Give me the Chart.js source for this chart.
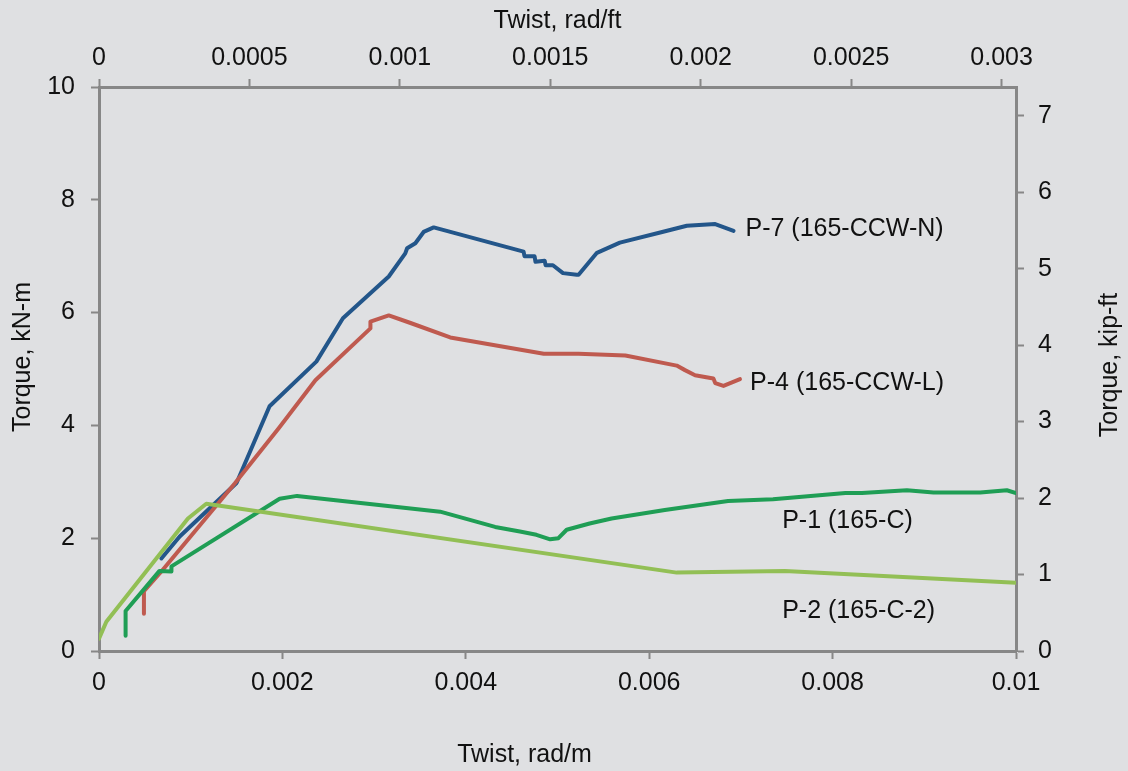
<!DOCTYPE html>
<html>
<head>
<meta charset="utf-8">
<script src="https://cdn.jsdelivr.net/npm/chart.js@4/dist/chart.umd.min.js"></script>
<style>
  html, body { margin: 0; padding: 0; background: #dfe0e2; }
  canvas { display: block; }
</style>
</head>
<body>
<canvas id="torque-chart" width="1128" height="771"></canvas>
<script>
/*
 * Torque vs twist, four specimens
**/

// Twist in rad/m, torque in kN-m
const p7Twist  = [0.00068, 0.00088, 0.00150, 0.00186, 0.00237, 0.00266, 0.00316, 0.00334, 0.00336, 0.00345, 0.00354, 0.00365, 0.00463, 0.00464, 0.00475, 0.00476, 0.00486, 0.00487, 0.00495, 0.00506, 0.00521, 0.00523, 0.00543, 0.00568, 0.00612, 0.00641, 0.00672, 0.00692]
const p7Torque = [1.64, 2.03, 2.98, 4.34, 5.13, 5.90, 6.64, 7.05, 7.14, 7.23, 7.43, 7.51, 7.08, 7.00, 7.00, 6.90, 6.92, 6.84, 6.84, 6.70, 6.67, 6.67, 7.06, 7.24, 7.42, 7.54, 7.57, 7.45]

const p4Twist  = [0.00049, 0.00049, 0.00068, 0.00148, 0.00196, 0.00236, 0.00296, 0.00296, 0.00316, 0.00339, 0.00383, 0.00485, 0.00523, 0.00574, 0.00630, 0.00639, 0.00650, 0.00670, 0.00672, 0.00681, 0.00699]
const p4Torque = [0.66, 1.06, 1.41, 2.97, 3.95, 4.80, 5.72, 5.84, 5.95, 5.82, 5.56, 5.27, 5.27, 5.24, 5.06, 4.98, 4.89, 4.83, 4.75, 4.70, 4.82]

const p1Twist  = [0.00029, 0.00029, 0.00066, 0.00079, 0.00079, 0.00197, 0.00216, 0.00372, 0.00432, 0.00459, 0.00477, 0.00492, 0.00501, 0.00510, 0.00535, 0.00559, 0.00617, 0.00686, 0.00735, 0.00814, 0.00832, 0.00881, 0.00910, 0.00961, 0.00990, 0.01000]
const p1Torque = [0.27, 0.71, 1.42, 1.41, 1.50, 2.70, 2.75, 2.47, 2.20, 2.12, 2.06, 1.98, 2.00, 2.15, 2.26, 2.35, 2.50, 2.66, 2.69, 2.80, 2.80, 2.85, 2.81, 2.81, 2.85, 2.80]

const p2Twist  = [0.00000, 0.00008, 0.00097, 0.00117, 0.00630, 0.00748, 0.01000]
const p2Torque = [0.22, 0.52, 2.35, 2.61, 1.39, 1.42, 1.21]

// Tick labels
const bottomTicks = [0, 0.002, 0.004, 0.006, 0.008, 0.01]
const topTicks    = ['0', '0.0005', '0.001', '0.0015', '0.002', '0.0025', '0.003']
const leftTicks   = [0, 2, 4, 6, 8, 10]
const rightTicks  = [0, 1, 2, 3, 4, 5, 6, 7]

// Series names, written at a point on the plot (data units)
const seriesLabels = [
  { text: 'P-7 (165-CCW-N)', x: 0.00705, y: 7.48 },
  { text: 'P-4 (165-CCW-L)', x: 0.00710, y: 4.75 },
  { text: 'P-1 (165-C)',     x: 0.00745, y: 2.30 },
  { text: 'P-2 (165-C-2)',   x: 0.00745, y: 0.71 }
]

const M_PER_FT = 0.3048
const KIPFT_PER_KNM = 0.737562

const axisColor = '#878787'
const textColor = '#111111'
const fontFamily = '"Liberation Sans", Arial, sans-serif'
const fontSize = 25

const toPoints = (xs, ys) => xs.map((x, i) => ({ x: x, y: ys[i] }))

const lineSet = (label, xs, ys, color) => ({
  label: label,
  data: toPoints(xs, ys),
  borderColor: color,
  backgroundColor: color,
  borderWidth: 4,
  pointRadius: 0,
  tension: 0,
  fill: false,
  borderJoinStyle: 'round',
  borderCapStyle: 'round'
})

const datasets = [
  lineSet('P-2', p2Twist, p2Torque, '#92bf55'),
  lineSet('P-1', p1Twist, p1Torque, '#1f9e55'),
  lineSet('P-4', p4Twist, p4Torque, '#bf5a4f'),
  lineSet('P-7', p7Twist, p7Torque, '#23568a')
]

const tickFont = { family: fontFamily, size: fontSize }

const axisGrid = {
  display: true,
  drawOnChartArea: false,
  drawTicks: true,
  tickLength: 8,
  tickWidth: 2,
  tickColor: axisColor,
  color: axisColor
}
const axisBorder = { display: true, color: axisColor, width: 3 }

// Series names plus the bottom / side axis titles (Excel places these a bit off-centre,
// and the right one reads bottom-to-top, so they are drawn here)
const textPlugin = {
  id: 'chartTexts',
  afterDraw(chart) {
    const ctx = chart.ctx
    const xs = chart.scales.x
    const ys = chart.scales.y
    const area = chart.chartArea
    ctx.save()
    ctx.font = `${fontSize}px ${fontFamily}`
    ctx.fillStyle = textColor
    ctx.textAlign = 'left'
    ctx.textBaseline = 'middle'
    seriesLabels.forEach(l => {
      ctx.fillText(l.text, xs.getPixelForValue(l.x), ys.getPixelForValue(l.y))
    })

    ctx.textAlign = 'center'
    ctx.fillText('Twist, rad/m', (area.left + area.right) / 2 - 33, chart.height - 16)

    const vertical = (text, x, y) => {
      ctx.save()
      ctx.translate(x, y)
      ctx.rotate(-Math.PI / 2)
      ctx.fillText(text, 0, 0)
      ctx.restore()
    }
    vertical('Torque, kN-m', 23, (area.top + area.bottom) / 2 - 12)
    vertical('Torque, kip-ft', chart.width - 18, (area.top + area.bottom) / 2 - 4)
    ctx.restore()
  }
}

const config = {
  type: 'line',
  data: { datasets: datasets },
  plugins: [textPlugin],
  options: {
    responsive: false,
    animation: false,
    events: [],
    layout: { padding: 0 },
    plugins: {
      legend: { display: false },
      tooltip: { enabled: false }
    },
    scales: {
      x: {
        type: 'linear',
        position: 'bottom',
        min: 0,
        max: 0.01,
        afterBuildTicks: scale => { scale.ticks = bottomTicks.map(v => ({ value: v })) },
        afterFit: scale => { scale.height = 120 },
        grid: axisGrid,
        border: axisBorder,
        ticks: {
          color: textColor,
          font: tickFont,
          padding: 9,
          maxRotation: 0,
          callback: (value) => String(value)
        }
      },
      x2: {
        type: 'linear',
        position: 'top',
        min: 0,
        max: 0.01 * M_PER_FT,
        afterBuildTicks: scale => { scale.ticks = topTicks.map(v => ({ value: parseFloat(v) })) },
        afterFit: scale => { scale.height = 87 },
        grid: axisGrid,
        border: axisBorder,
        ticks: {
          color: textColor,
          font: tickFont,
          padding: 6,
          maxRotation: 0,
          callback: (value, index) => topTicks[index]
        },
        title: {
          display: true,
          text: 'Twist, rad/ft',
          color: textColor,
          font: tickFont,
          padding: { top: 6, bottom: 0 }
        }
      },
      y: {
        type: 'linear',
        position: 'left',
        min: 0,
        max: 10,
        afterBuildTicks: scale => { scale.ticks = leftTicks.map(v => ({ value: v })) },
        afterFit: scale => { scale.width = 99 },
        grid: axisGrid,
        border: axisBorder,
        ticks: {
          color: textColor,
          font: tickFont,
          padding: 16
        }
      },
      y2: {
        type: 'linear',
        position: 'right',
        min: 0,
        max: 10 * KIPFT_PER_KNM,
        afterBuildTicks: scale => { scale.ticks = rightTicks.map(v => ({ value: v })) },
        afterFit: scale => { scale.width = 112 },
        grid: axisGrid,
        border: axisBorder,
        ticks: {
          color: textColor,
          font: tickFont,
          padding: 14
        }
      }
    }
  }
}

new Chart(document.getElementById('torque-chart'), config)
</script>
</body>
</html>
